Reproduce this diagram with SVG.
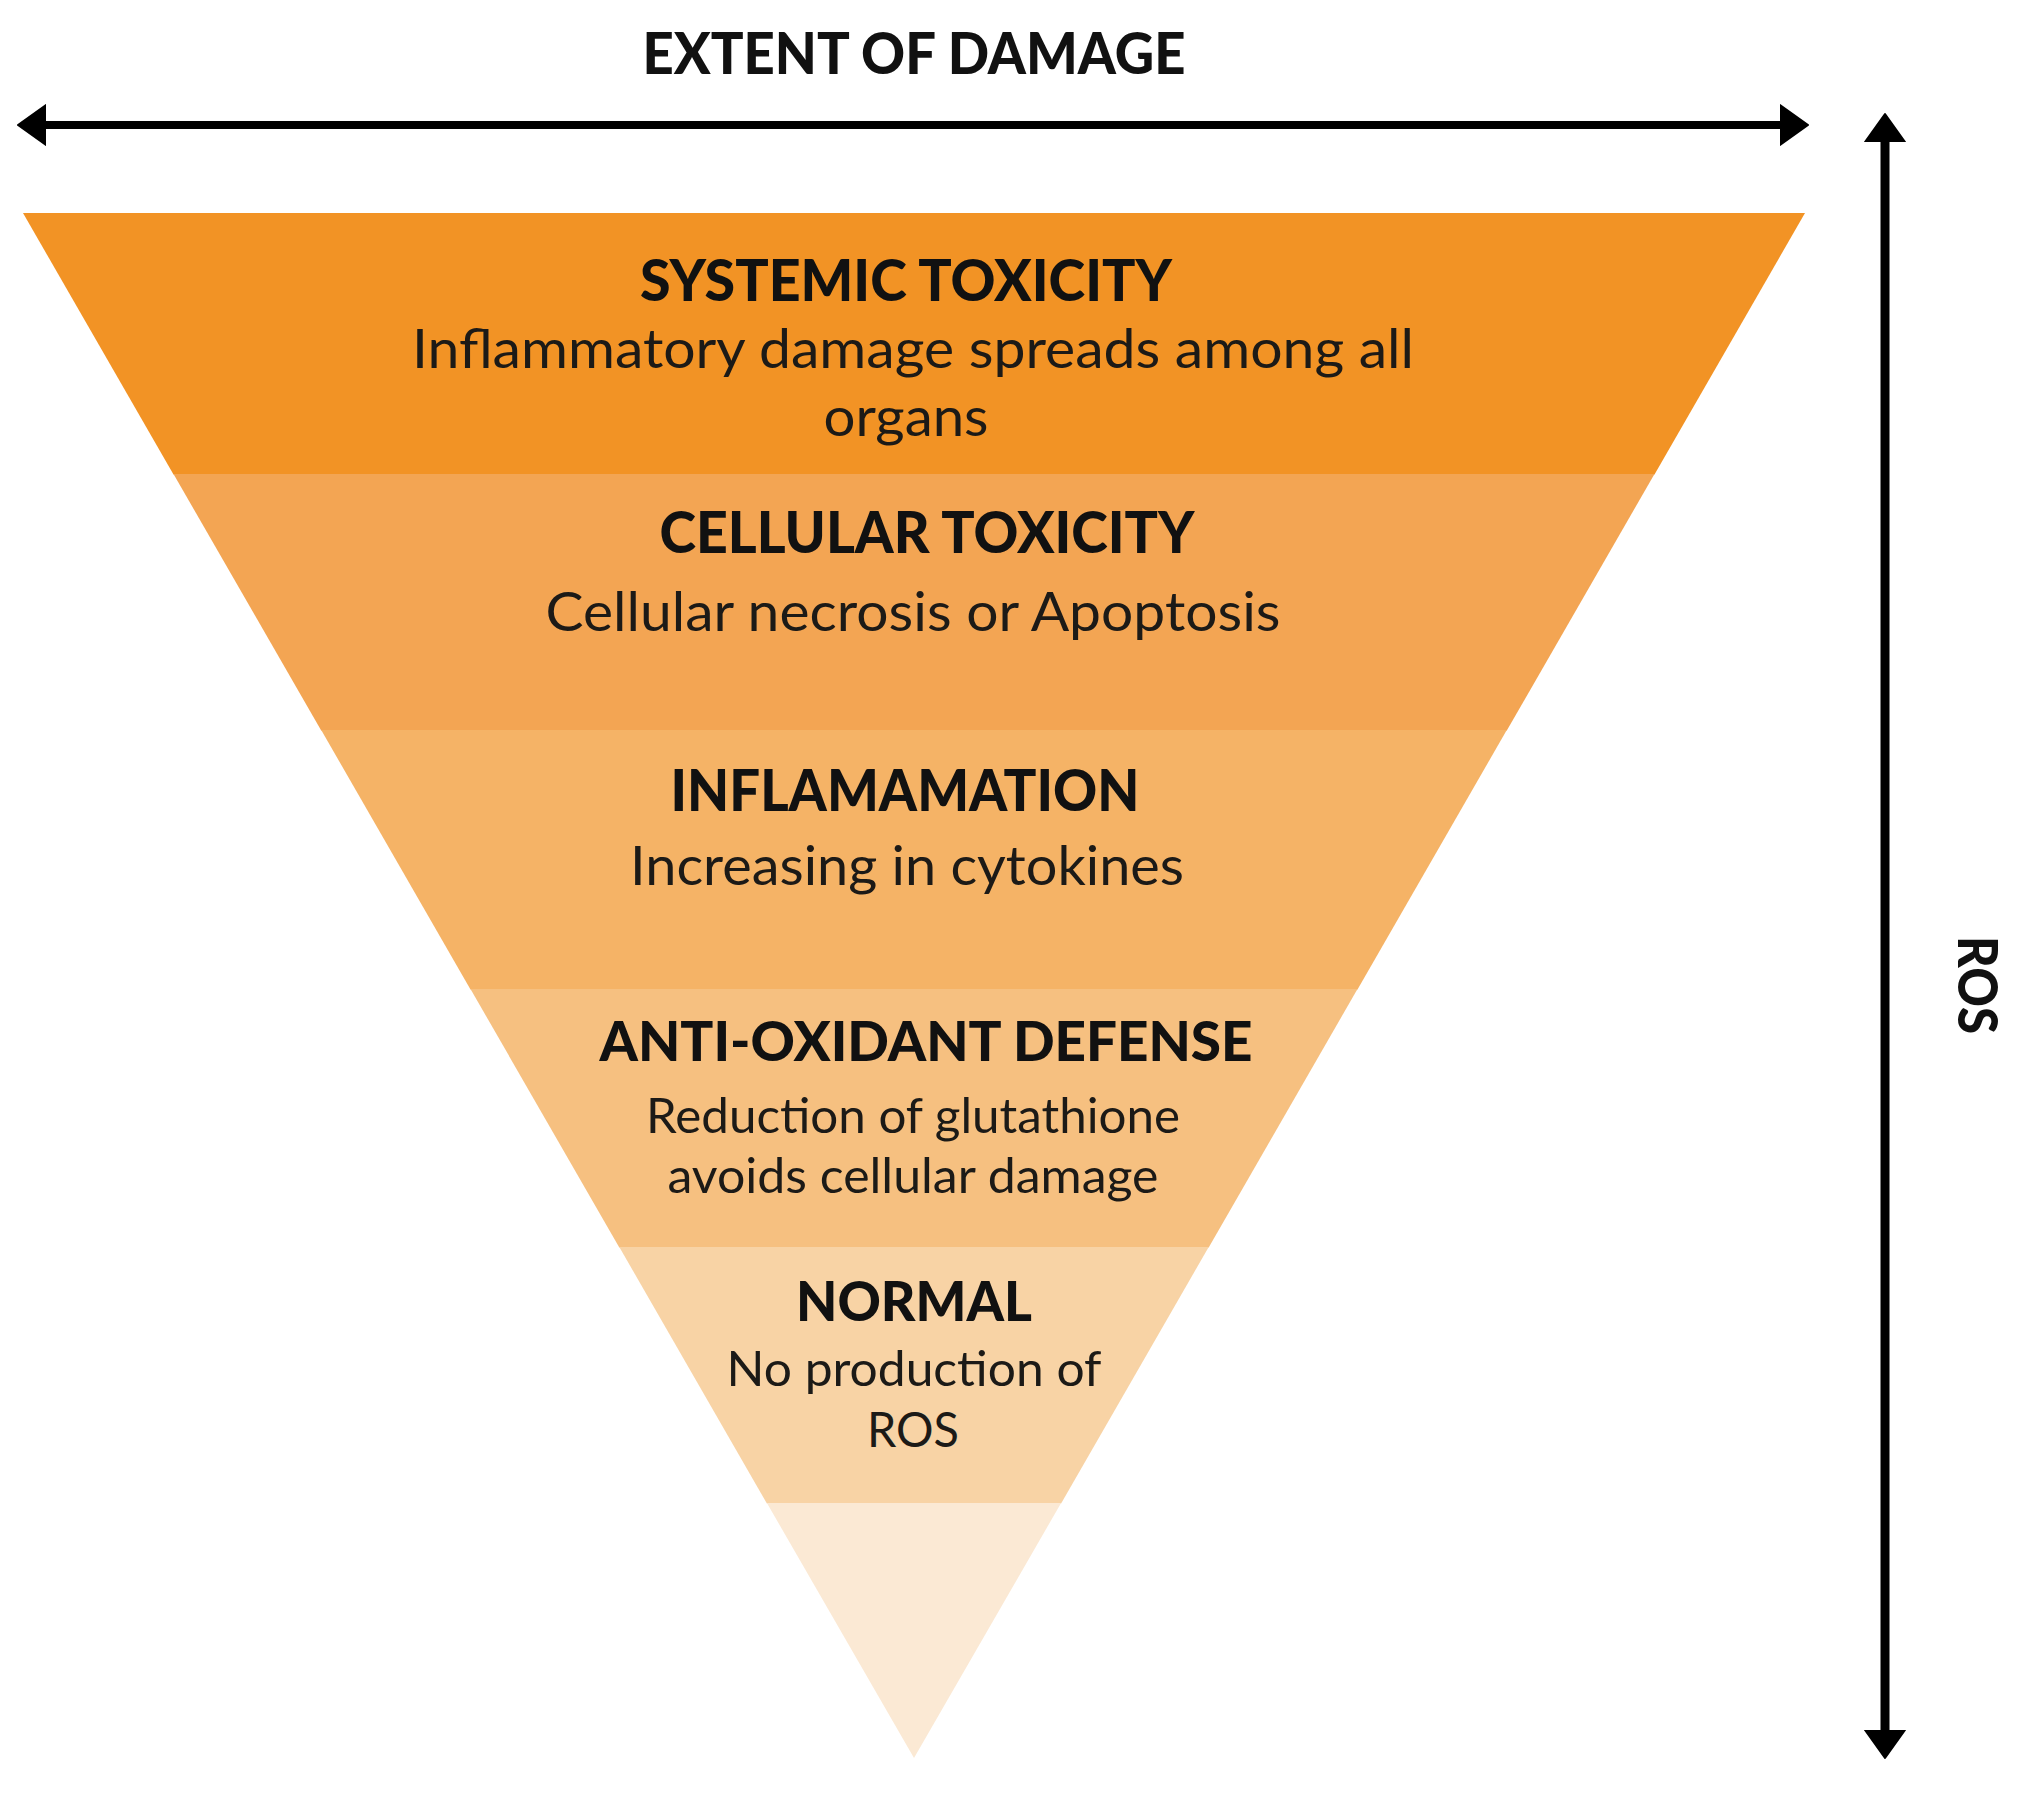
<svg xmlns="http://www.w3.org/2000/svg" width="2027" height="1801" viewBox="0 0 2027 1801">
  <defs>
    <style>
      .h { font-family: Lato, "Liberation Sans", sans-serif; font-weight: 900; fill: #111; text-anchor: middle; }
      .s { font-family: Lato, "Liberation Sans", sans-serif; font-weight: 400; fill: #1c1a17; text-anchor: middle; }
      .line { stroke: #000; fill: none; }
    </style>
    <marker id="head" markerUnits="userSpaceOnUse" markerWidth="30" markerHeight="42" refX="0" refY="21" orient="auto-start-reverse" viewBox="0 0 30 42">
      <path d="M0,1 L28,21 L0,41 Z" fill="#000" stroke="#000" stroke-width="2" stroke-linejoin="round"/>
    </marker>
  </defs>
  <rect width="2027" height="1801" fill="#ffffff"/>

  <text class="h" x="914" y="74" font-size="58" textLength="543" lengthAdjust="spacingAndGlyphs">EXTENT OF DAMAGE</text>

  <g id="connectors">
    <line class="line" x1="46" y1="125" x2="1780" y2="125" stroke-width="8" marker-start="url(#head)" marker-end="url(#head)"/>
    <line class="line" x1="1885" y1="142" x2="1885" y2="1730" stroke-width="9" marker-start="url(#head)" marker-end="url(#head)"/>
  </g>

  <text class="h" transform="translate(1979,985) rotate(90)" x="0" y="21" font-size="56" textLength="98" lengthAdjust="spacingAndGlyphs">ROS</text>

  <g id="band-systemic">
    <polygon points="23,213 1805,213 1654.5,474.5 173.5,474.5" fill="#F29325"/>
    <text class="h" x="906" y="301" font-size="58" textLength="532" lengthAdjust="spacingAndGlyphs">SYSTEMIC TOXICITY</text>
    <text class="s" x="913" y="368" font-size="54" textLength="1002" lengthAdjust="spacingAndGlyphs">Inflammatory damage spreads among all</text>
    <text class="s" x="906" y="436" font-size="54" textLength="165" lengthAdjust="spacingAndGlyphs">organs</text>
  </g>

  <g id="band-cellular">
    <polygon points="173.5,474 1654.5,474 1506.8,730.5 321.2,730.5" fill="#F3A553"/>
    <text class="h" x="927" y="553" font-size="58" textLength="535" lengthAdjust="spacingAndGlyphs">CELLULAR TOXICITY</text>
    <text class="s" x="913" y="631" font-size="54" textLength="735" lengthAdjust="spacingAndGlyphs">Cellular necrosis or Apoptosis</text>
  </g>

  <g id="band-inflammation">
    <polygon points="321.2,730 1506.8,730 1357.5,989.5 470.5,989.5" fill="#F5B366"/>
    <text class="h" x="905" y="811" font-size="58" textLength="469" lengthAdjust="spacingAndGlyphs">INFLAMAMATION</text>
    <text class="s" x="907" y="885" font-size="54" textLength="554" lengthAdjust="spacingAndGlyphs">Increasing in cytokines</text>
  </g>

  <g id="band-antioxidant">
    <polygon points="470.5,989 1357.5,989 1208.7,1247.5 619.3,1247.5" fill="#F6C080"/>
    <text class="h" x="926" y="1061" font-size="56" textLength="653" lengthAdjust="spacingAndGlyphs">ANTI-OXIDANT DEFENSE</text>
    <text class="s" x="913" y="1133" font-size="48" textLength="534" lengthAdjust="spacingAndGlyphs">Reduction of glutathione</text>
    <text class="s" x="913" y="1193" font-size="48" textLength="491" lengthAdjust="spacingAndGlyphs">avoids cellular damage</text>
  </g>

  <g id="band-normal">
    <polygon points="619.3,1247 1208.7,1247 1061.1,1503.5 766.9,1503.5" fill="#F8D3A5"/>
    <text class="h" x="914" y="1321" font-size="56" textLength="236" lengthAdjust="spacingAndGlyphs">NORMAL</text>
    <text class="s" x="914" y="1386" font-size="48" textLength="375" lengthAdjust="spacingAndGlyphs">No production of</text>
    <text class="s" x="913" y="1447" font-size="48" textLength="92" lengthAdjust="spacingAndGlyphs">ROS</text>
  </g>

  <g id="band-base">
    <polygon points="766.9,1503 1061.1,1503 914,1758" fill="#FBE9D4"/>
  </g>
</svg>
